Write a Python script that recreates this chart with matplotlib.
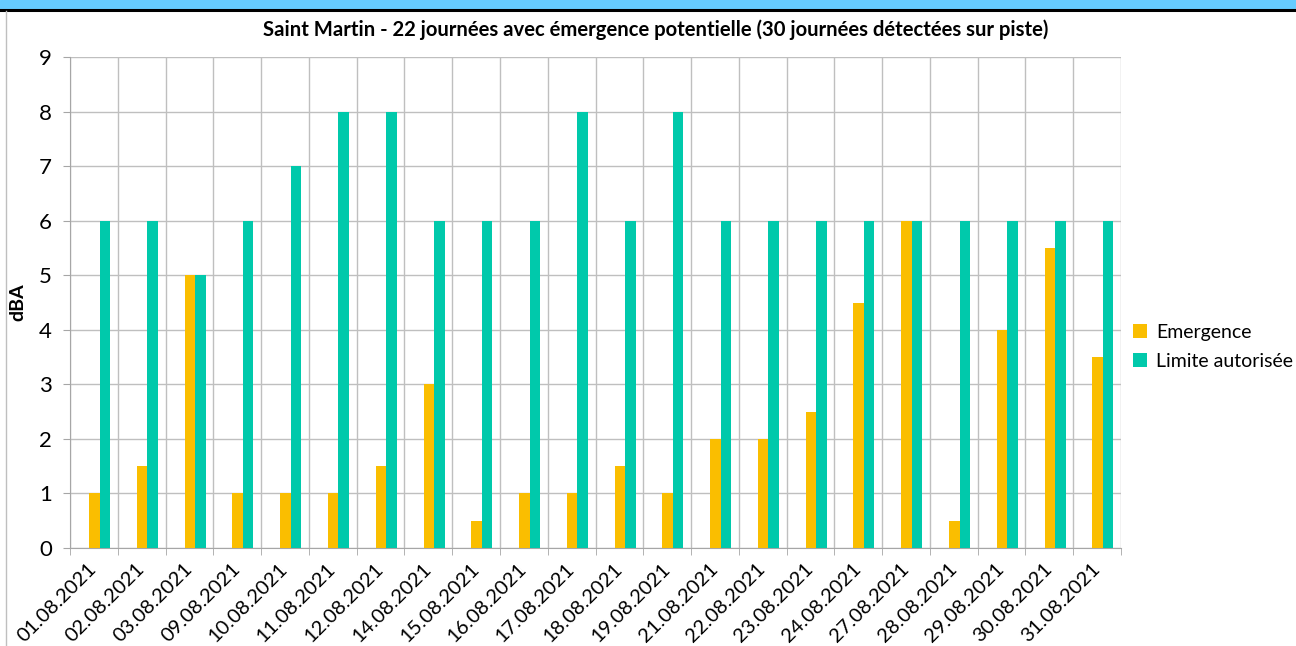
import numpy as np
import matplotlib.pyplot as plt
from matplotlib.patches import Rectangle
from matplotlib.lines import Line2D

# DATA
dates = ["01.08.2021", "02.08.2021", "03.08.2021", "09.08.2021", "10.08.2021",
         "11.08.2021", "12.08.2021", "14.08.2021", "15.08.2021", "16.08.2021",
         "17.08.2021", "18.08.2021", "19.08.2021", "21.08.2021", "22.08.2021",
         "23.08.2021", "24.08.2021", "27.08.2021", "28.08.2021", "29.08.2021",
         "30.08.2021", "31.08.2021"]
emergence = [1, 1.5, 5, 1, 1, 1, 1.5, 3, 0.5, 1, 1, 1.5, 1, 2, 2, 2.5, 4.5, 6, 0.5, 4, 5.5, 3.5]
limite = [6, 6, 5, 6, 7, 8, 8, 6, 6, 6, 8, 6, 8, 6, 6, 6, 6, 6, 6, 6, 6, 6]

plt.rcParams['font.family'] = ['Lato', 'DejaVu Sans']

fig = plt.figure(figsize=(12.96, 6.46), dpi=100)

# frame decoration (blue band on top, thin border left)
fig.patches.append(Rectangle((0, 1 - 9 / 646), 1, 9 / 646, transform=fig.transFigure,
                             color="#66CCFF", zorder=0))
fig.lines.append(Line2D([0, 1], [1 - 10 / 646, 1 - 10 / 646], transform=fig.transFigure,
                        color="black", lw=2.2))
fig.lines.append(Line2D([6 / 1296, 6 / 1296], [0, 1 - 11 / 646], transform=fig.transFigure,
                        color="#BFBFBF", lw=1))

ax = fig.add_axes([70 / 1296, 1 - 548 / 646, (1121 - 70) / 1296, (548 - 57) / 646])

x = np.arange(len(dates))
w = 0.22
off = 0.12
ax.bar(x + off - w / 2, emergence, w, color="#FABE00", label="Emergence", zorder=3)
ax.bar(x + off + w / 2, limite, w, color="#00C9AB", label="Limite autorisée", zorder=3)

ax.set_xlim(-0.5, len(dates) - 0.5)
ax.set_ylim(0, 9)
ax.set_yticks(range(0, 10))
ax.set_xticks(x)
ax.set_xticklabels(dates, rotation=45, ha="right", va="center", rotation_mode="anchor", fontsize=14.5)
ax.set_xticks(np.arange(-0.5, len(dates)), minor=True)
ax.tick_params(axis="x", which="major", length=0, pad=13)
ax.tick_params(axis="x", which="minor", length=5, color="#A6A6A6")
ax.tick_params(axis="y", length=5, color="#A6A6A6", labelsize=16, pad=8)

ax.grid(axis="y", color="#BFBFBF", lw=1, zorder=0)
ax.grid(axis="x", which="minor", color="#BFBFBF", lw=1, zorder=0)
for s in ["top", "right"]:
    ax.spines[s].set_visible(False)
for s in ["left", "bottom"]:
    ax.spines[s].set_color("#A6A6A6")

ax.set_ylabel("dBA", fontsize=14, fontweight="bold")
ax.yaxis.set_label_coords((26 - 70) / 1051, 0.5)
fig.text(0.506, 1 - 30 / 646, "Saint Martin - 22 journées avec émergence potentielle (30 journées détectées sur piste)",
         ha="center", va="center", fontsize=14.6, fontweight="bold")

ax.legend(loc="center left", bbox_to_anchor=(1 + 12 / 1051, 0.41), frameon=False, fontsize=14,
          borderpad=0, borderaxespad=0,
          handlelength=0.7, handleheight=0.7, handletextpad=0.5, labelspacing=0.6)

fig.savefig("out.png", dpi=100)
